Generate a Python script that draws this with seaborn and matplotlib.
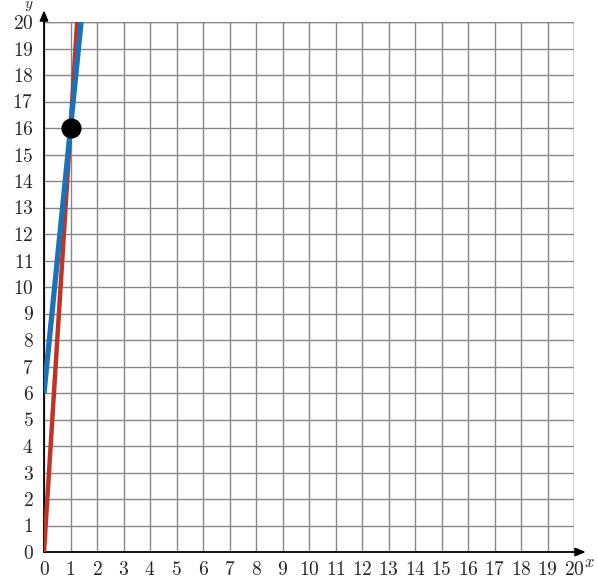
import seaborn as sns
import matplotlib.pyplot as plt
import pandas as pd

# two lines meeting at (1, 16)
red_x = [0, 1, 1.25]
red_y = [0, 16, 20]
blue_x = [0, 1, 1.4]
blue_y = [6, 16, 20]
point_x = [1]
point_y = [16]
ticks = list(range(21))

sns.set_style("white")
plt.rcParams["font.family"] = ["cmr10", "DejaVu Serif"]
plt.rcParams["mathtext.fontset"] = "cm"
plt.rcParams["axes.formatter.use_mathtext"] = True

fig = plt.figure(figsize=(5.97, 5.80), dpi=100)
ax = fig.add_axes([44 / 597, 28 / 580, 530 / 597, 530 / 580])

red = pd.DataFrame({"x": red_x, "y": red_y})
blue = pd.DataFrame({"x": blue_x, "y": blue_y})
pt = pd.DataFrame({"x": point_x, "y": point_y})

sns.lineplot(data=red, x="x", y="y", ax=ax, color="#bf3424", linewidth=3.2,
             solid_capstyle="butt", zorder=3)
sns.lineplot(data=blue, x="x", y="y", ax=ax, color="#1b72b9", linewidth=3.8,
             solid_capstyle="butt", zorder=4)
sns.scatterplot(data=pt, x="x", y="y", ax=ax, color="black", s=180,
                edgecolor="black", zorder=5)

ax.set_xlim(0, 20)
ax.set_ylim(0, 20)
ax.set_xticks(ticks)
ax.set_yticks(ticks)
ax.grid(True, color="#888888", linewidth=1.0)
ax.set_axisbelow(True)
ax.set_xlabel("")
ax.set_ylabel("")

for s in ["top", "right"]:
    ax.spines[s].set_visible(False)
for s in ["left", "bottom"]:
    ax.spines[s].set_color("black")
    ax.spines[s].set_linewidth(1.3)

ax.tick_params(axis="both", direction="inout", length=4, width=1.5,
               color="black", labelsize=14)
ax.tick_params(axis="y", pad=5.5)
ax.tick_params(axis="x", pad=4.5)

# grid border on top and right
ax.axhline(20, color="#888888", linewidth=1.0, zorder=1)
ax.axvline(20, color="#888888", linewidth=1.0, zorder=1)

# axis arrows
ax.annotate("", xy=(20.55, 0), xytext=(19.9, 0), annotation_clip=False,
            arrowprops=dict(arrowstyle="-|>,head_length=0.6,head_width=0.25",
                            color="black", lw=1.3))
ax.annotate("", xy=(0, 20.55), xytext=(0, 19.9), annotation_clip=False,
            arrowprops=dict(arrowstyle="-|>,head_length=0.6,head_width=0.25",
                            color="black", lw=1.3))

fig.text(29 / 597, 1 - 6 / 580, "$y$", fontsize=11, ha="center", va="center")
fig.text(584 / 597, 1 - 562 / 580, "$x$", fontsize=12, ha="left", va="center")

fig.savefig("out.png", dpi=100)
